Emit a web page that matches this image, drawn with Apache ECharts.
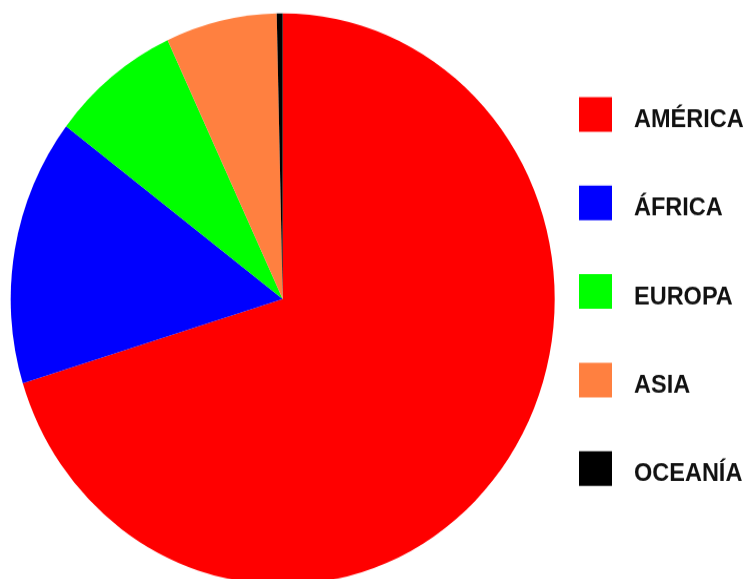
<!DOCTYPE html>
<html>
<head>
<meta charset="utf-8">
<script src="https://cdn.jsdelivr.net/npm/echarts@6/dist/echarts.min.js"></script>
<style>
html,body{margin:0;padding:0;background:#fff;width:747px;height:579px;overflow:hidden;}
#chart{width:747px;height:552px;transform:scale(1,1.05);transform-origin:0 0;}
</style>
</head>
<body>
<div id="chart"></div>
<script>
const categories = ['AMÉRICA', 'ÁFRICA', 'EUROPA', 'ASIA', 'OCEANÍA'];
const values = [70.2, 15.1, 7.7, 6.6, 0.35];
const colors = ['#FF0000', '#0000FF', '#00FF00', '#FF8040', '#000000'];

const chart = echarts.init(document.getElementById('chart'), null, {renderer: 'canvas'});
chart.setOption({
  animation: false,
  backgroundColor: '#ffffff',
  color: colors,
  legend: {
    orient: 'vertical',
    left: 579,
    top: 92.5,
    padding: 0,
    icon: 'path://M0,0H33V33H0Z M0,44L0.01,44L0,44Z',
    itemWidth: 33.01,
    itemHeight: 44,
    itemGap: 40.3,
    selectedMode: false,
    textStyle: {
      fontFamily: 'Liberation Sans, Arial, sans-serif',
      fontSize: 23.5,
      fontWeight: 'bold',
      color: '#111',
      padding: [0, 0, 0, 17]
    },
    data: categories
  },
  series: [{
    type: 'pie',
    center: [282.7, 284.8],
    radius: 272,
    startAngle: 90,
    clockwise: true,
    avoidLabelOverlap: false,
    label: {show: false},
    labelLine: {show: false},
    emphasis: {disabled: true},
    itemStyle: {borderWidth: 0},
    data: categories.map((c, i) => ({name: c, value: values[i], itemStyle: {color: colors[i]}}))
  }]
});
</script>
</body>
</html>
